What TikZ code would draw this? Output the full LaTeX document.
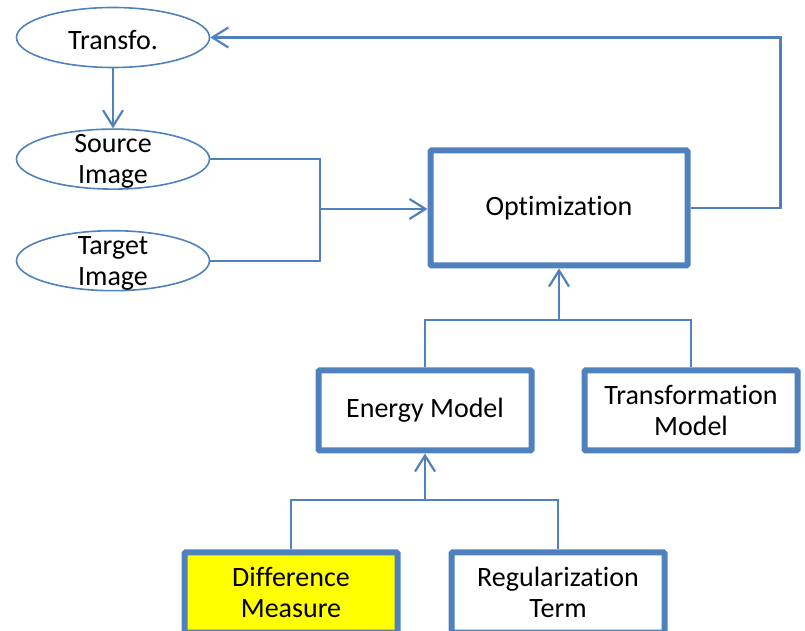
\documentclass[tikz,border=0pt]{standalone}
\usepackage{fontspec}
\setmainfont{Carlito}[Ligatures={NoCommon}]
\usetikzlibrary{shapes.geometric,arrows.meta,positioning,calc}
\definecolor{officeblue}{RGB}{79,129,189}
\definecolor{brightyellow}{RGB}{255,255,0}

\begin{document}
\begin{tikzpicture}[x=0.5pt,y=-0.5pt,
    font=\fontsize{14}{15.5}\selectfont,
    oval/.style={draw=officeblue, ellipse, line width=0.8pt, minimum width=96.5pt, minimum height=30pt, inner sep=0pt},
    box/.style={draw=officeblue, rectangle, line width=3pt, rounded corners=0.5pt, minimum width=106.5pt, minimum height=40pt, align=center, fill=white},
    wire/.style={draw=officeblue, line width=1.1pt},
    arr/.style={wire, -{Straight Barb[length=8pt, width=10pt, line width=1.1pt]}}]
    \useasboundingbox (0,0) rectangle (805,631);

    % Input ovals
    \node[oval, label={[align=center, yshift=-1.2pt]center:Transfo.}] (transfo) at (113,37.5) {};
    \node[oval, below=30pt of transfo, label={[align=center, yshift=-1.2pt]center:Source\\Image}] (source) {};
    \node[oval, below=20pt of source, label={[align=center, yshift=-1.2pt]center:Target\\Image}] (target) {};

    % Model boxes
    \node[box, minimum width=128.5pt, minimum height=57.5pt] (opt) at (559,208) {Optimization};
    \node[box] (energy) at (425,410.5) {Energy Model};
    \node[box] (trans) at (691,410.5) {Transformation\\Model};
    \node[box, fill=brightyellow] (diff) at (291,592.5) {Difference\\Measure};
    \node[box] (reg) at (558,592.5) {Regularization\\Term};

    % Junction points
    \coordinate (join) at (320,209);
    \coordinate (optfork) at (558,320);
    \coordinate (enfork) at (425,500);

    % Connectors
    \draw[arr] (transfo.south) -- (source.north);
    \draw[wire] (source.east) -| (join);
    \draw[wire] (target.east) -| (join);
    \draw[arr] (join) -- (opt.west |- join);
    \draw[arr] (opt.east) -- ++(90,0) |- (transfo.east);
    \draw[wire] (energy.north) |- (optfork) -| (trans.north);
    \draw[arr] (opt.south |- optfork) -- (opt.south);
    \draw[wire] (diff.north) |- (enfork) -| (reg.north);
    \draw[arr] (energy.south |- enfork) -- (energy.south);
\end{tikzpicture}
\end{document}
